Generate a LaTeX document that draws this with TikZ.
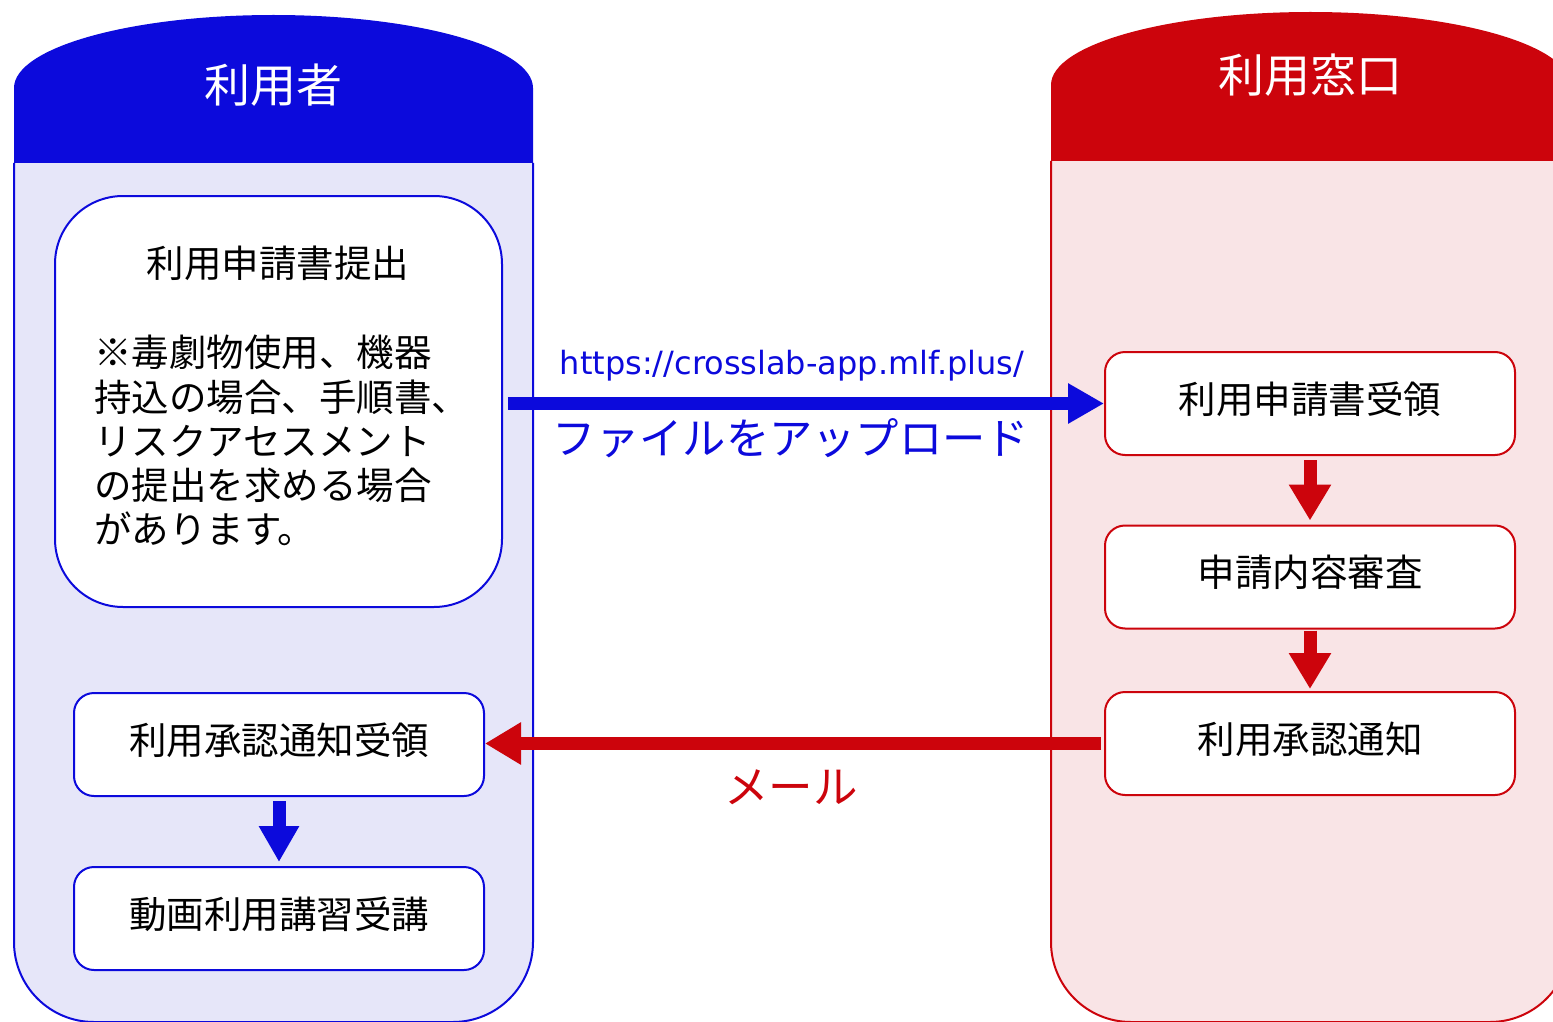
\documentclass[tikz,border=0pt]{standalone}
\usepackage{fontspec}
\setmainfont{Noto Sans CJK JP}
\newfontfamily\urlfont{DejaVu Sans}
\usetikzlibrary{arrows.meta}
\definecolor{bluedark}{HTML}{0C0ADC}
\definecolor{bluelight}{HTML}{E6E6F9}
\definecolor{reddark}{HTML}{CC040C}
\definecolor{redlight}{HTML}{F9E4E6}
\tikzset{
  bluebox/.style={draw=bluedark, line width=2pt, fill=white, rounded corners=20pt, minimum width=410pt, minimum height=103pt, font=\fontsize{37.5}{44}\selectfont, inner sep=0pt, text height=30pt, text depth=11pt},
  redbox/.style={draw=reddark, line width=2pt, fill=white, rounded corners=20pt, minimum width=410pt, minimum height=103pt, font=\fontsize{37.5}{44}\selectfont, inner sep=0pt, text height=30pt, text depth=11pt},
  bluearrow/.style={bluedark, line width=13pt, -{Triangle[width=38pt,length=36pt]}},
  redarrow/.style={reddark, line width=13pt, -{Triangle[width=40pt,length=36pt]}},
  headtext/.style={text=white, font=\fontsize{46}{52}\selectfont, inner sep=0pt}
}
\begin{document}
\begin{tikzpicture}[x=1pt,y=-1pt]
\useasboundingbox (0,0) rectangle (1553,1022);
% left lane
\path[fill=bluelight, draw=bluedark, line width=2pt, rounded corners=80pt] (14,163) -- (14,1022) -- (533,1022) -- (533,163);
\fill[bluedark] (14,163) -- (14,88) arc[start angle=180, end angle=360, x radius=259.5, y radius=73] -- (533,163) -- cycle;
\node[headtext] (hl) at (273,85) {利用者};
% right lane
\path[fill=redlight, draw=reddark, line width=2pt, rounded corners=80pt] (1051,161) -- (1051,1022) -- (1570,1022) -- (1570,161);
\fill[reddark] (1051,161) -- (1051,85) arc[start angle=180, end angle=360, x radius=259.5, y radius=73] -- (1570,161) -- cycle;
\node[headtext] (hr) at (1310,75) {利用窓口};
% left boxes
\node[draw=bluedark, line width=2pt, fill=white, rounded corners=68pt, minimum width=447pt, minimum height=411pt, inner sep=0pt] (big) at (278.5,401.5) {};
\node[font=\fontsize{37.5}{44}\selectfont, inner sep=0pt] (bigtitle) at (278,263) {利用申請書提出};
\node[font=\fontsize{37.5}{44.3}\selectfont, inner sep=0pt, anchor=north west, align=left] (note) at (94,335) {※毒劇物使用、機器\\持込の場合、手順書、\\リスクアセスメント\\の提出を求める場合\\があります。};
\node[bluebox] (l1) at (279,744.5) {利用承認通知受領};
\node[bluebox] (l2) at (279,918.5) {動画利用講習受講};
% right boxes
\node[redbox] (r1) at (1310,403.5) {利用申請書受領};
\node[redbox] (r2) at (1310,577) {申請内容審査};
\node[redbox] (r3) at (1310,743.5) {利用承認通知};
% arrows
\draw[bluearrow, shorten <=5pt] (big.east |- r1.west) -- (r1.west);
\draw[redarrow, shorten <=3pt] (r3.west) -- (r3.west -| l1.east);
\draw[bluearrow, shorten <=4pt, shorten >=4pt] (l1.south) -- (l2.north);
\draw[redarrow, shorten <=4pt, shorten >=4pt] (r1.south) -- (r2.north);
\draw[redarrow, shorten <=1pt, shorten >=2pt] (r2.south) -- (r3.north);
% labels
\node[text=bluedark, font=\urlfont\fontsize{32}{36}\selectfont, inner sep=0pt] (url) at (792,366) {https://crosslab-app.mlf.plus/};
\node[text=bluedark, font=\fontsize{43.3}{48}\selectfont, inner sep=0pt] (upl) at (791,438) {ファイルをアップロード};
\node[text=reddark, font=\fontsize{44.5}{50}\selectfont, inner sep=0pt] (mail) at (791,787) {メール};
\end{tikzpicture}
\end{document}
